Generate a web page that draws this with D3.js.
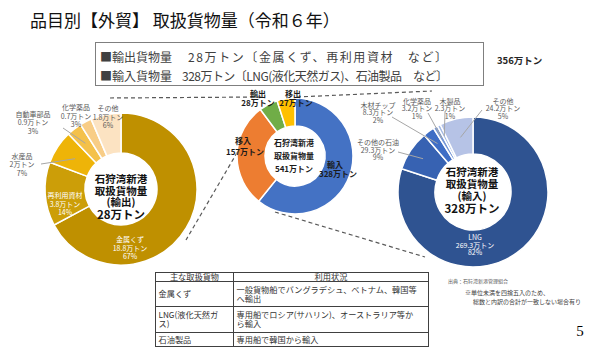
<!DOCTYPE html>
<html><head><meta charset="utf-8">
<script src="https://cdn.jsdelivr.net/npm/d3@7"></script>
<style>
html,body{margin:0;padding:0;background:#fff;}
svg{display:block;font-family:"Noto Sans CJK JP","Noto Sans",sans-serif;}
</style></head>
<body>
<svg id="chart" width="600" height="350"></svg>
<script>
// ---- data ----
const exportNames = ["金属くず","再利用資材","水産品","自動車部品","化学薬品","その他"];
const exportValues = [18.8,3.8,2.0,0.9,0.7,1.8];
const exportPct = ["67%","14%","7%","3%","3%","6%"];

const totalNames = ["輸入","移入","輸出","移出"];
const totalValues = [328,157,28,27];

const importNames = ["LNG","その他の石油","木材チップ","化学薬品","木製品","その他"];
const importValues = [269.3,29.3,8.3,3.2,2.3,24.2];
const importPct = ["82%","9%","2%","1%","1%","5%"];

const tableRows = [
  [["金属くず"],["一般貨物船でバングラデシュ、ベトナム、韓国等","へ輸出"]],
  [["LNG(液化天然ガ","ス)"],["専用船でロシア(サハリン)、オーストラリア等か","ら輸入"]],
  [["石油製品"],["専用船で韓国から輸入"]]
];

// ---- layout / style ----
const svg = d3.select("#chart");
const exportColors = ["#BF9000","#CC9E08","#EEB408","#F4C14A","#F8CD86","#FCE3C2"];
const totalColors = ["#4472C4","#ED7D31","#70AD47","#FFC000"];
const importColors = ["#2F5391","#3762B2","#3E6DC5","#7496D6","#A2B8E3","#B6C3E6"];
const fmt = v => (Number.isInteger(v) ? v : v.toFixed(1)) + "万トン";

// title
svg.append("text").attr("x",30).attr("y",27).attr("font-size",17).attr("fill","#111")
  .text("品目別【外貿】 取扱貨物量（令和６年）");

// top box
svg.append("rect").attr("x",95.5).attr("y",42.5).attr("width",388).attr("height",43)
  .attr("fill","#fff").attr("stroke","#7f7f7f").attr("stroke-width",1);
const boxLines = [
  {y:61.5, head:"■輸出貨物量", x2:188, body:"28万トン〔金属くず、再利用資材　など〕", len:259},
  {y:80.5, head:"■輸入貨物量", x2:182, body:"328万トン〔LNG(液化天然ガス)、石油製品　など〕", len:266}
];
boxLines.forEach(l=>{
  const g = svg.append("g").attr("font-size",12).attr("fill","#404040");
  g.append("text").attr("x",100).attr("y",l.y).text(l.head);
  g.append("text").attr("x",l.x2).attr("y",l.y).attr("textLength",l.len)
    .attr("lengthAdjust","spacing").text(l.body);
});
svg.append("text").attr("x",497).attr("y",64).attr("font-size",9.5).attr("font-weight","bold")
  .attr("fill","#262626").text("356万トン");

// connector dashed lines
const connectors = [
  [[110,98],[262,97]],
  [[262,110],[186,240]],
  [[297,97],[432,91]],
  [[275,212],[425,257]]
];
svg.append("g").selectAll("line").data(connectors).join("line")
  .attr("x1",d=>d[0][0]).attr("y1",d=>d[0][1]).attr("x2",d=>d[1][0]).attr("y2",d=>d[1][1])
  .attr("stroke","#595959").attr("stroke-width",1.2).attr("stroke-dasharray","4,3");

const pie = d3.pie().sort(null).value(d=>d);

function donut(cx, cy, rIn, rOut, values, colors, strokeW){
  const g = svg.append("g").attr("transform",`translate(${cx},${cy})`);
  const arcs = pie(values);
  const arc = d3.arc().innerRadius(rIn).outerRadius(rOut);
  g.selectAll("path").data(arcs).join("path")
    .attr("d",arc).attr("fill",(d,i)=>colors[i])
    .attr("stroke","#fff").attr("stroke-width",strokeW);
  return {g, arcs, cx, cy};
}

function multiText(x, y, lines, opts){
  const t = svg.append("text").attr("x",x).attr("y",y).attr("text-anchor","middle")
    .attr("font-size",opts.size).attr("fill",opts.fill)
    .attr("font-weight",opts.weight||"normal");
  lines.forEach((s,i)=>{
    t.append("tspan").attr("x",x).attr("dy", i===0?0:opts.lh).text(s);
  });
  return t;
}

function leader(d, cx, cy, r, from){
  const a = (d.startAngle + d.endAngle)/2;
  const px = cx + r*Math.sin(a), py = cy - r*Math.cos(a);
  svg.append("line").attr("x1",from[0]).attr("y1",from[1]).attr("x2",px).attr("y2",py)
    .attr("stroke","#a6a6a6").attr("stroke-width",1);
}

// ---- left donut: exports ----
const L = donut(121,189,36,76,exportValues,exportColors,1.5);
const exportLabelPos = [
  {x:130,y:242,fill:"#fff"},
  {x:65,y:198,fill:"#fff"},
  {x:22,y:158.5,fill:"#595959",lead:[41,164],r:55},
  {x:33,y:116.5,fill:"#595959",lead:[63,128],r:58},
  {x:76,y:110,fill:"#595959"},
  {x:108,y:111,fill:"#595959"}
];
exportNames.forEach((n,i)=>{
  const p = exportLabelPos[i];
  if(p.lead) leader(L.arcs[i], L.cx, L.cy, p.r, p.lead);
  multiText(p.x,p.y,[n,fmt(exportValues[i]),exportPct[i]],{size:7,fill:p.fill,lh:8.5});
});
multiText(121,183,["石狩湾新港","取扱貨物量","(輸出)"],{size:10.5,fill:"#111",weight:"bold",lh:11.5});
svg.append("text").attr("x",121).attr("y",219).attr("text-anchor","middle").attr("font-size",11.5)
  .attr("font-weight","bold").attr("fill","#111").text("28万トン");

// ---- middle donut: totals ----
const M = donut(295,156,30,58,totalValues,totalColors,1.5);
const totalLabelPos = [
  {x1:335,y1:168,x2:338,y2:177},
  {x1:243,y1:144,x2:245,y2:155},
  {x1:258,y1:97,x2:258,y2:106},
  {x1:293,y1:97,x2:296,y2:106}
];
totalNames.forEach((n,i)=>{
  const p = totalLabelPos[i];
  const g = svg.append("g").attr("font-size",8).attr("font-weight","bold").attr("fill","#1a1a1a").attr("text-anchor","middle");
  g.append("text").attr("x",p.x1).attr("y",p.y1).text(n);
  g.append("text").attr("x",p.x2).attr("y",p.y2).text(fmt(totalValues[i]));
});
multiText(294,146,["石狩湾新港","取扱貨物量","541万トン"],{size:8,fill:"#1a1a1a",weight:"bold",lh:13});

// ---- right donut: imports ----
const R = donut(473,192,38,75,importValues,importColors,1.5);
const importLabelPos = [
  {x:475,y:240,fill:"#fff"},
  {x:378,y:145,fill:"#595959",lead:[398,152],r:60},
  {x:378,y:107.5,fill:"#595959",lead:[392,117],r:60},
  {x:417,y:103.5,fill:"#595959",lead:[428,113],r:62},
  {x:450,y:103.5,fill:"#595959",lead:[445,112],r:63},
  {x:503,y:103.5,fill:"#595959",lead:[482,110],r:56}
];
importNames.forEach((n,i)=>{
  const p = importLabelPos[i];
  if(p.lead) leader(R.arcs[i], R.cx, R.cy, p.r, p.lead);
  multiText(p.x,p.y,[n,fmt(importValues[i]),importPct[i]],{size:7,fill:p.fill,lh:7.5});
});
multiText(472,176,["石狩湾新港","取扱貨物量","(輸入)"],{size:10.5,fill:"#111",weight:"bold",lh:12});
svg.append("text").attr("x",472).attr("y",213).attr("text-anchor","middle").attr("font-size",11.5)
  .attr("font-weight","bold").attr("fill","#111").text("328万トン");

// ---- table ----
const tX0=155.5, tX1=233.5, tX2=428.5;
const rowY = [272.5,281.5,306.5,332.5,346.5];
const tg = svg.append("g");
tg.append("rect").attr("x",tX0).attr("y",rowY[0]).attr("width",tX2-tX0).attr("height",rowY[4]-rowY[0])
  .attr("fill","#fff").attr("stroke","#404040");
tg.append("line").attr("x1",tX1).attr("x2",tX1).attr("y1",rowY[0]).attr("y2",rowY[4]).attr("stroke","#404040");
rowY.slice(1,4).forEach(y=>tg.append("line").attr("x1",tX0).attr("x2",tX2).attr("y1",y).attr("y2",y).attr("stroke","#404040"));
const tt = tg.append("g").attr("font-size",8.2).attr("fill","#333");
tt.append("text").attr("x",(tX0+tX1)/2).attr("y",279.5).attr("text-anchor","middle").text("主な取扱貨物");
tt.append("text").attr("x",(tX1+tX2)/2).attr("y",279.5).attr("text-anchor","middle").text("利用状況");
tableRows.forEach((row,i)=>{
  const top = rowY[i+1];
  const bottom = rowY[i+2];
  row.forEach((cell,c)=>{
    const x = c===0 ? tX0+3 : tX1+3;
    const n = cell.length;
    const mid = (top+bottom)/2;
    const t = tt.append("text").attr("x",x).attr("y",mid + 3 - (n-1)/2*9);
    cell.forEach((s,k)=>{
      t.append("tspan").attr("x",x).attr("dy",k===0?0:9).text(s);
    });
  });
});

// ---- notes ----
svg.append("text").attr("x",478).attr("y",283).attr("text-anchor","middle").attr("font-size",5).attr("fill","#595959").text("出典：石狩湾新港管理組合");
svg.append("text").attr("x",465).attr("y",295).attr("font-size",6).attr("fill","#404040").text("※単位未満を四捨五入のため、");
svg.append("text").attr("x",473).attr("y",303.5).attr("font-size",6).attr("fill","#404040").text("総数と内訳の合計が一致しない場合有り");
svg.append("text").attr("x",580).attr("y",336).attr("text-anchor","middle").attr("font-size",15)
  .attr("font-family","Liberation Serif, serif").attr("fill","#000").text("5");
</script>
</body></html>
